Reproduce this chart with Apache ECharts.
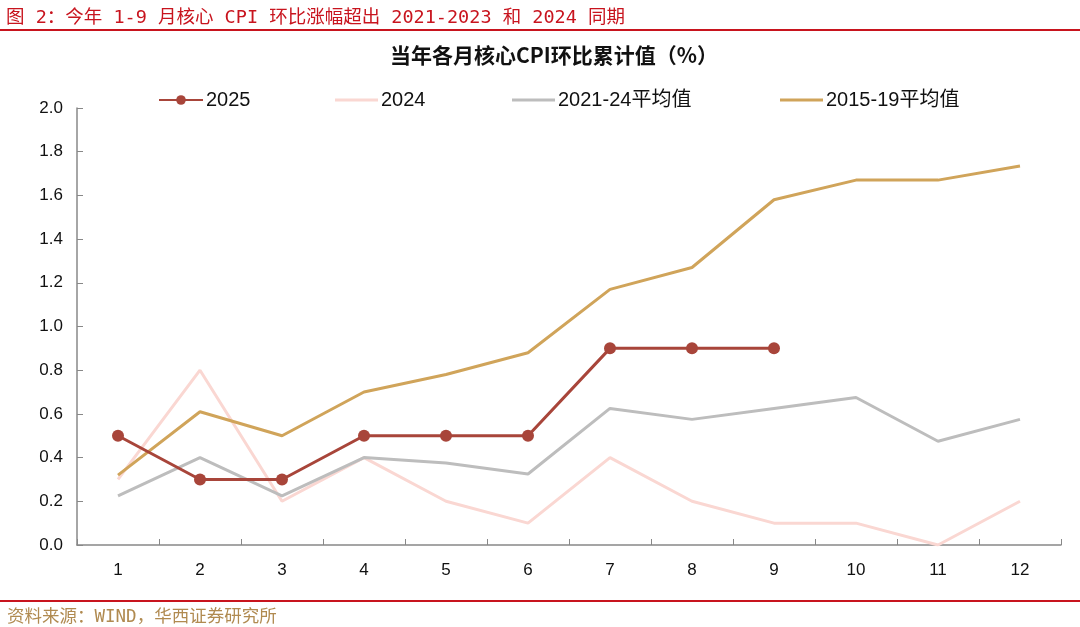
<!DOCTYPE html>
<html>
<head>
<meta charset="utf-8">
<script src="https://cdn.jsdelivr.net/npm/echarts@6/dist/echarts.min.js"></script>
<style>
html,body{margin:0;padding:0;background:#fff;}
#c{width:1080px;height:627px;}
</style>
</head>
<body>
<div id="c"></div>
<script>
const months = ['1','2','3','4','5','6','7','8','9','10','11','12'];
const s2025 = [0.5,0.3,0.3,0.5,0.5,0.5,0.9,0.9,0.9];
const s2024 = [0.3,0.8,0.2,0.4,0.2,0.1,0.4,0.2,0.1,0.1,0.0,0.2];
const s2124 = [0.225,0.4,0.225,0.4,0.375,0.325,0.625,0.575,0.625,0.675,0.475,0.575];
const s1519 = [0.32,0.61,0.5,0.7,0.78,0.88,1.17,1.27,1.58,1.67,1.67,1.735];
const yTicks = ['0.0','0.2','0.4','0.6','0.8','1.0','1.2','1.4','1.6','1.8','2.0'];
const names = ['2025','2024','2021-24平均值','2015-19平均值'];

const chart = echarts.init(document.getElementById('c'), null, {renderer:'canvas'});
const axisFont = 'Liberation Sans, Arial, sans-serif';
const monoCJK = 'DejaVu Sans Mono, Noto Sans CJK SC';
const legendText = {fontSize:20, color:'#111', fontFamily:'Liberation Sans, Noto Sans CJK SC', padding:[0,0,0,-2]};
chart.setOption({
  backgroundColor:'#fff',
  animation:false,
  title:[
    {text:'图 2：今年 1-9 月核心 CPI 环比涨幅超出 2021-2023 和 2024 同期', left:1, top:4,
     textStyle:{color:'#c8141e', fontSize:18.5, fontWeight:'normal', fontFamily:monoCJK}},
    {text:'当年各月核心CPI环比累计值（%）', left:385, top:40,
     textStyle:{color:'#111', fontSize:21, fontWeight:'bold', fontFamily:'Noto Sans CJK SC'}},
    {text:'资料来源：WIND，华西证券研究所', left:2, top:604,
     textStyle:{color:'#b08a50', fontSize:17.5, fontWeight:'normal', fontFamily:monoCJK}}
  ],
  graphic:[
    {type:'rect', shape:{x:0,y:29,width:1080,height:2}, style:{fill:'#c8141e'}},
    {type:'rect', shape:{x:0,y:600,width:1080,height:2}, style:{fill:'#c8141e'}}
  ],
  legend:[
    {top:85, left:153, itemWidth:44, itemHeight:12, textStyle:legendText,
     data:[{name:names[0]}]},
    {top:85, left:330, itemWidth:43, itemHeight:3, textStyle:legendText,
     data:[{name:names[1], icon:'rect'}]},
    {top:85, left:507, itemWidth:43, itemHeight:3, textStyle:legendText,
     data:[{name:names[2], icon:'rect'}]},
    {top:85, left:775, itemWidth:43, itemHeight:3, textStyle:legendText,
     data:[{name:names[3], icon:'rect'}]}
  ],
  grid:{left:77, right:19, top:108, bottom:82, containLabel:false},
  xAxis:{
    type:'category', data:months, boundaryGap:true,
    axisLine:{lineStyle:{color:'#888', width:1.5}},
    axisTick:{show:true, inside:true, lineStyle:{color:'#888'}, length:6},
    axisLabel:{color:'#111', fontSize:17, fontFamily:axisFont, margin:17},
    splitLine:{show:false}
  },
  yAxis:{
    type:'value', min:0, max:2, interval:0.2,
    axisLine:{show:true, lineStyle:{color:'#888', width:1.5}},
    axisTick:{show:true, inside:true, length:6, lineStyle:{color:'#888'}},
    axisLabel:{color:'#111', fontSize:17, fontFamily:axisFont, margin:14,
      formatter:(v)=>yTicks[Math.round(v/0.2)]},
    splitLine:{show:false}
  },
  series:[
    {name:names[3], type:'line', data:s1519, symbol:'none', z:2,
     lineStyle:{color:'#d0a45a', width:3}, itemStyle:{color:'#d0a45a'}},
    {name:names[2], type:'line', data:s2124, symbol:'none', z:2,
     lineStyle:{color:'#bdbdbd', width:3}, itemStyle:{color:'#bdbdbd'}},
    {name:names[1], type:'line', data:s2024, symbol:'none', z:1,
     lineStyle:{color:'#fad7d2', width:3}, itemStyle:{color:'#fad7d2'}},
    {name:names[0], type:'line', data:s2025, symbol:'circle', symbolSize:12, z:3,
     lineStyle:{color:'#a8453a', width:3}, itemStyle:{color:'#a8453a'}}
  ]
});
</script>
</body>
</html>
